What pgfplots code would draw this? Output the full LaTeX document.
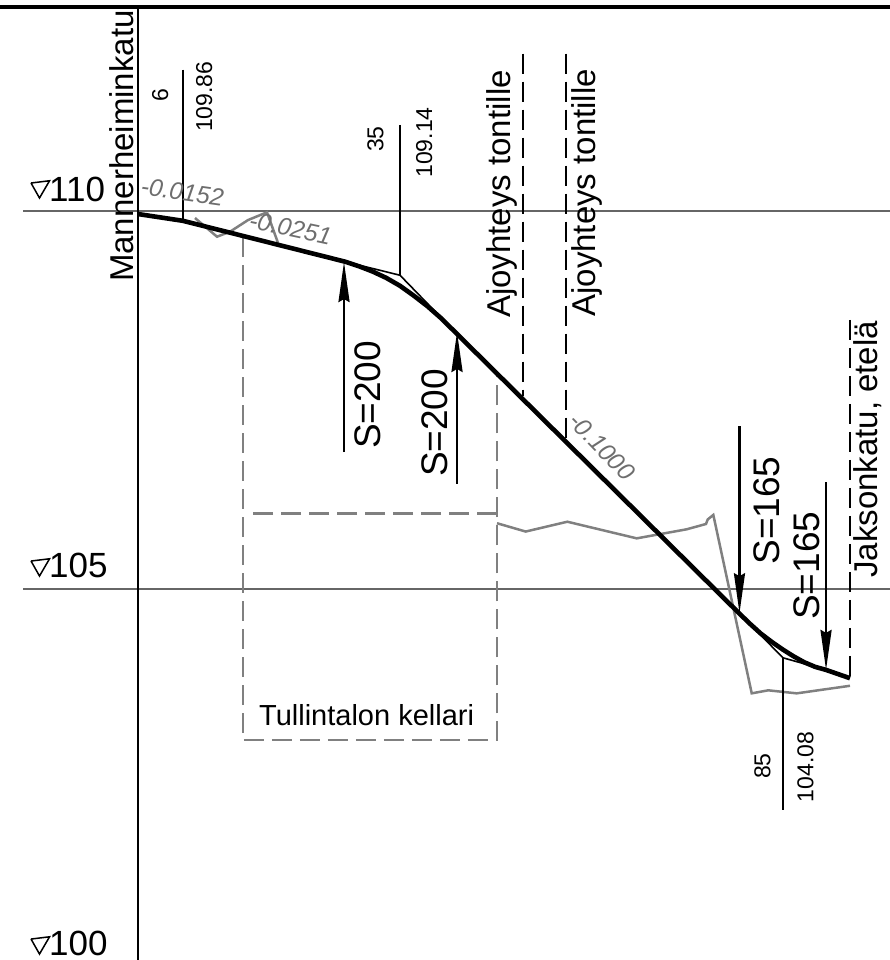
\documentclass[border=0pt]{standalone}
\usepackage{fontspec}
\setmainfont{Liberation Sans}
\usepackage{pgfplots}
\pgfplotsset{compat=1.18}
\usetikzlibrary{arrows.meta}
\definecolor{ground}{HTML}{808080}
\definecolor{slopetxt}{HTML}{6E6E6E}
\definecolor{level}{HTML}{666666}
\newcommand{\fs}[1]{\fontsize{#1}{#1}\selectfont}
\tikzset{
  vlab/.style={anchor=base west,rotate=90,inner sep=0pt,text=black},
  hlab/.style={anchor=base west,inner sep=0pt,text=black},
  slope/.style={anchor=base west,inner sep=0pt,text=slopetxt,font=\fs{24.5}\itshape},
  harrow/.style={black,line width=2.5pt,-{Stealth[length=40pt,width=11pt,inset=3pt]}},
  longdash/.style={dash pattern=on 20pt off 8pt},
}
\begin{document}
\begin{tikzpicture}
\begin{axis}[
  scale only axis,
  width=890pt,
  height=960pt,
  xmin=-18.254, xmax=99.471,
  ymin=100.093, ymax=112.791,
  hide axis,
  no markers,
  clip=true,
]
\coordinate (sw) at (rel axis cs:0,0);
\coordinate (ne) at (rel axis cs:1,1);

% level lines
\addplot[level,line width=1.2pt] coordinates {(-15.21,110) (99.47,110)};
\addplot[level,line width=1.2pt] coordinates {(-15.21,105) (99.47,105)};

% frame
\addplot[black,line width=4.2pt] coordinates {(-18.254,112.70) (99.471,112.70)};
\addplot[black,line width=2.2pt] coordinates {(0,112.70) (0,100.093)};

% existing ground
\addplot[ground,line width=2.5pt] coordinates {
  (7.54,109.907) (10.45,109.66) (12.17,109.726) (14.55,109.88) (17.06,109.983) (18.52,109.577)};
\addplot[ground,line width=2.5pt] coordinates {
  (47.49,105.87) (51.28,105.76) (56.79,105.89) (65.97,105.67) (72.58,105.79)
  (75.13,105.86) (75.36,105.92) (76.10,105.98) (81.18,103.62) (83.37,103.66)
  (87.13,103.62) (94.18,103.72)};

% basement
\addplot[ground,line width=2.2pt,longdash] coordinates {
  (13.89,109.656) (13.89,103.0) (47.49,103.0) (47.49,107.85)};
\addplot[ground,line width=2.2pt,longdash] coordinates {(47.49,106.0) (14.95,106.0)};

% side connections
\addplot[black,line width=2.2pt,longdash] coordinates {(50.93,112.08) (50.93,107.55)};
\addplot[black,line width=2.2pt,longdash] coordinates {(56.56,112.08) (56.56,106.97)};
\addplot[black,line width=2.2pt,longdash] coordinates {(94.18,108.56) (94.18,103.82)};

% tangents and leaders
\addplot[black,line width=1.6pt] coordinates {(27.38,109.33) (34.66,109.15) (41.93,108.40)};
\addplot[black,line width=1.6pt] coordinates {(79.50,104.68) (85.32,104.09) (91.01,103.93)};
\addplot[black,line width=1.8pt] coordinates {(5.95,111.87) (5.95,109.87)};
\addplot[black,line width=1.8pt] coordinates {(34.66,111.14) (34.66,109.15)};
\addplot[black,line width=1.8pt] coordinates {(85.32,104.09) (85.32,102.08)};

% road profile
\addplot[black,line width=4.6pt,line join=round] coordinates {
  (0,109.96) (5.95,109.87) (27.38,109.33) (29.20,109.27) (31.02,109.20)
  (32.84,109.115) (34.66,109.01) (36.48,108.88) (38.29,108.74) (40.11,108.58)
  (41.93,108.40) (79.50,104.68) (80.95,104.54) (82.39,104.41) (83.84,104.30)
  (85.28,104.20) (86.71,104.11) (88.15,104.03) (89.58,103.97) (91.01,103.93)
  (94.18,103.82)};

% curve start and end arrows
\addplot[harrow] coordinates {(27.25,106.81) (27.25,109.325)};
\addplot[harrow] coordinates {(42.20,106.39) (42.20,108.40)};
\addplot[harrow] coordinates {(79.56,107.156) (79.56,104.68)};
\addplot[harrow] coordinates {(91.01,106.415) (91.01,103.93)};

% level symbols
\addplot[black,line width=1.5pt] coordinates {(-14.15,110.37) (-11.70,110.40) (-13.03,110.172) (-14.15,110.37)};
\addplot[black,line width=1.5pt] coordinates {(-14.15,105.37) (-11.70,105.40) (-13.03,105.172) (-14.15,105.37)};
\addplot[black,line width=1.5pt] coordinates {(-14.15,100.37) (-11.70,100.40) (-13.03,100.172) (-14.15,100.37)};
\node[hlab,font=\fs{35}] at (axis cs:-11.77,110.123) {110};
\node[hlab,font=\fs{35}] at (axis cs:-11.77,105.146) {105};
\node[hlab,font=\fs{35}] at (axis cs:-11.77,100.159) {100};

% labels
\node[vlab,font=\fs{33}] at (axis cs:-0.66,109.06) {Mannerheiminkatu};
\node[vlab,font=\fs{23}] at (axis cs:3.97,111.44) {6};
\node[vlab,font=\fs{23}] at (axis cs:9.79,111.045) {109.86};
\node[vlab,font=\fs{23}] at (axis cs:32.47,110.78) {35};
\node[vlab,font=\fs{23}] at (axis cs:38.89,110.437) {109.14};
\node[vlab,font=\fs{23}] at (axis cs:83.66,102.487) {85};
\node[vlab,font=\fs{23}] at (axis cs:89.33,102.18) {104.08};
\node[vlab,font=\fs{33}] at (axis cs:49.30,108.585) {Ajoyhteys tontille};
\node[vlab,font=\fs{33}] at (axis cs:60.45,108.60) {Ajoyhteys tontille};
\node[vlab,font=\fs{33}] at (axis cs:97.88,105.146) {Jaksonkatu, etelä};
\node[vlab,font=\fs{37}] at (axis cs:32.14,106.85) {S=200};
\node[vlab,font=\fs{37}] at (axis cs:40.94,106.48) {S=200};
\node[vlab,font=\fs{37}] at (axis cs:84.85,105.32) {S=165};
\node[vlab,font=\fs{37}] at (axis cs:90.15,104.59) {S=165};
\node[hlab,font=\fs{29}] at (axis cs:16.0,103.2) {Tullintalon kellari};

% slopes
\node[slope,rotate=-8] at (axis cs:0.26,110.22) {-0.0152};
\node[slope,rotate=-12] at (axis cs:14.55,109.775) {-0.0251};
\node[slope,rotate=-46] at (axis cs:56.75,107.20) {-0.1000};
\end{axis}
\pgfresetboundingbox
\path[use as bounding box] (sw) rectangle (ne);
\end{tikzpicture}
\end{document}
